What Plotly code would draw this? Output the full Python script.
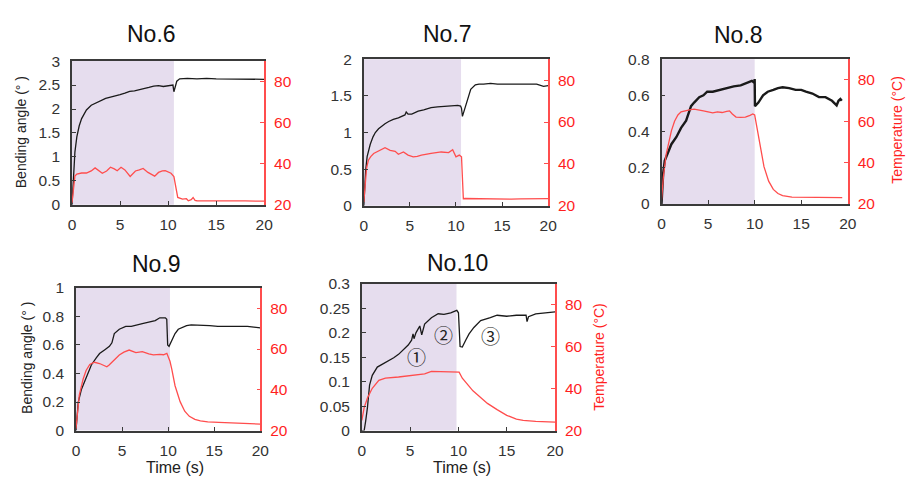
import plotly.graph_objects as go

# ---------------- data ----------------
titles = ["No.6", "No.7", "No.8", "No.9", "No.10"]
heat_end = [10.6, 10.55, 10.0, 10.2, 9.8]

t6_ang = [0,0.1,0.2,0.3,0.5,0.75,1,1.5,2,2.5,3,3.5,4,4.5,5,5.5,6,6.5,7,7.5,8,8.5,9,9.5,10,10.3,10.5,10.6,10.7,10.9,11.2,11.6,12,13,14,15,16,17,18,19,20]
ang6 = [0,0.3,0.75,1.1,1.42,1.65,1.8,1.98,2.08,2.13,2.18,2.22,2.25,2.27,2.3,2.33,2.37,2.38,2.4,2.43,2.45,2.48,2.49,2.47,2.48,2.5,2.5,2.36,2.45,2.58,2.63,2.64,2.64,2.63,2.64,2.63,2.63,2.62,2.63,2.62,2.62]
t6_tmp = [0,0.1,0.2,0.3,0.5,1,1.5,2,2.4,2.8,3.15,3.6,4,4.4,4.7,5.1,5.5,6.05,6.6,7,7.4,7.9,8.3,8.6,9,9.4,9.7,10,10.3,10.6,10.75,10.85,11,11.5,11.9,12.1,12.4,12.6,12.8,13,14,15,16,17,18,19,20]
tmp6 = [21,26,31,34,35,35.5,35.5,36.5,38,36.5,35.4,36.5,38.3,37.5,36.6,38.3,37,33.8,36.5,37,37.7,35.8,34.8,34,35.8,36.5,36.6,36,35.4,33.8,30,26,23.6,22.8,23,22,22.5,23.6,22.2,22,21.9,21.9,21.9,21.9,21.9,21.9,21.8]

t7_ang = [0,0.1,0.2,0.36,0.5,0.7,1,1.25,1.6,1.96,2.3,2.7,3.2,3.75,4.1,4.46,4.6,4.8,5.2,5.5,5.9,6.5,7.3,8,8.75,9.5,10.2,10.5,10.6,10.7,10.9,11.1,11.25,11.6,12.1,12.5,13,13.75,14.5,15.5,16.25,17,18,18.75,19.5,20]
ang7 = [0,0.3,0.48,0.67,0.75,0.84,0.94,1.0,1.05,1.09,1.12,1.15,1.18,1.2,1.22,1.24,1.28,1.25,1.25,1.27,1.29,1.31,1.34,1.35,1.36,1.36,1.37,1.36,1.33,1.22,1.3,1.38,1.44,1.59,1.65,1.66,1.66,1.67,1.66,1.66,1.65,1.65,1.65,1.66,1.63,1.64]
t7_tmp = [0,0.1,0.18,0.3,0.5,0.75,1.07,1.4,1.8,2.3,2.86,3.4,3.75,4.3,4.8,5.36,5.8,6.25,7.3,8.4,9.2,9.64,10,10.36,10.6,10.7,10.8,11,12,13,14.5,16,17,18,19,20]
tmp7 = [21.8,28,34,38,41.8,43.5,45,45.8,46.5,47.7,46.5,46,44.6,45.7,44.2,43.4,43.6,44.2,45,45.7,45.4,46.8,43.4,44.2,43.4,33,23.4,23.5,23.4,23.3,23.1,23.2,23.3,23.4,23.4,23.4]

t8_ang = [0,0.18,0.35,0.7,1.06,1.6,2.1,2.64,3.17,3.5,3.8,4.05,4.5,4.9,5.5,6.3,7,7.75,8.5,9.15,9.7,9.96,10.0,10.03,10.4,10.9,11.4,12,12.5,13,13.7,14.4,15,15.5,16.2,16.9,17.6,18.3,18.8,19.0,19.2,19.35]
ang8 = [0,0.17,0.24,0.29,0.33,0.37,0.42,0.46,0.54,0.56,0.58,0.59,0.6,0.62,0.62,0.63,0.64,0.65,0.655,0.67,0.68,0.67,0.69,0.54,0.56,0.6,0.62,0.63,0.64,0.645,0.64,0.63,0.63,0.62,0.61,0.59,0.59,0.57,0.545,0.57,0.58,0.57]
t8_tmp = [0,0.2,0.5,0.8,1.06,1.4,1.76,2.1,2.5,3,3.5,4,4.5,5,5.5,6,6.5,7,7.3,7.6,8,8.5,9,9.5,9.8,10,10.3,10.6,11,11.5,12,12.5,13,14,15,16,17,18,19,19.4]
tmp8 = [22,33,44,51,55.3,60,63,64.5,65,65.5,65.8,65.5,65,64.5,64,64.5,64.2,64.8,65,63.5,62,61.8,62,62.8,63.5,63,55,47,38,31,27,25,24,23.3,23.2,23.1,23,23,23,23]

t9_ang = [0,0.07,0.25,0.6,1.14,1.67,2.2,2.56,3.1,3.63,3.9,4.16,4.7,5.4,6,6.5,7.2,7.9,8.6,9.1,9.7,9.85,9.95,10.1,10.4,10.75,11.1,11.46,12,12.5,13.6,14.5,15.4,16.3,17.2,18,18.6,19.3,20]
ang9 = [0,0.07,0.2,0.29,0.38,0.46,0.51,0.54,0.565,0.59,0.615,0.68,0.71,0.73,0.73,0.74,0.75,0.76,0.77,0.79,0.79,0.78,0.6,0.59,0.63,0.68,0.71,0.72,0.735,0.74,0.74,0.735,0.73,0.73,0.735,0.73,0.73,0.725,0.72]
t9_tmp = [0,0.07,0.2,0.36,0.78,1.1,1.5,2,2.56,3.1,3.35,3.6,4,4.7,5.2,5.77,6.5,7.2,7.9,8.4,9.1,9.5,9.86,10.03,10.2,10.4,10.75,11.3,11.8,12.3,12.9,13.5,14.3,15.5,17.2,18.5,20]
tmp9 = [21,24.7,31,37.4,45.3,49.5,52.4,53.5,52.9,51.9,51.3,52.2,54,57.1,58.5,59.5,58.2,58.7,57.6,57.1,57.4,57.2,57.9,56.3,54,50,42,34.2,29.5,27,25.5,24.8,24.3,24,23.6,23.4,23.2]

t10_ang = [0,0.24,0.4,0.58,0.8,1.08,1.6,2.44,3.3,3.8,4.3,4.8,5.15,5.3,5.4,5.6,5.83,6.0,6.2,6.5,7.2,7.9,8.5,9.2,9.83,10.0,10.17,10.4,10.75,11.1,11.6,12.3,13.3,14,15,16,17,17.1,17.25,18,19,20]
ang10 = [0,0,0.02,0.047,0.093,0.113,0.13,0.139,0.149,0.156,0.165,0.175,0.185,0.198,0.188,0.2,0.208,0.214,0.196,0.218,0.231,0.239,0.238,0.241,0.246,0.241,0.172,0.171,0.185,0.198,0.211,0.225,0.231,0.236,0.234,0.236,0.236,0.223,0.233,0.239,0.241,0.243]
t10_tmp = [0,0.24,0.58,1.08,1.76,2.44,3.8,5.15,6.5,7.2,8.2,9.2,9.5,10.07,10.4,11,11.5,12,13,14,15,16,16.7,18,20]
tmp10 = [24.9,31,35.6,40.2,44,45.1,45.6,46.3,47.1,48.3,48.2,47.9,48,47.9,45,41.5,39,37,33,30,27.3,25.5,24.9,24.4,24.1]

angle_max = [3, 2, 0.8, 1, 0.3]
angle_dtick = [0.5, 0.5, 0.2, 0.2, 0.05]
temp_ticks = [20, 40, 60, 80]
time_ticks = [0, 5, 10, 15, 20]

labels = ["①", "②", "③"]
label_t = [5.7, 8.5, 13.3]
label_v = [0.152, 0.196, 0.194]

panels = [
    (t6_ang, ang6, t6_tmp, tmp6),
    (t7_ang, ang7, t7_tmp, tmp7),
    (t8_ang, ang8, t8_tmp, tmp8),
    (t9_ang, ang9, t9_tmp, tmp9),
    (t10_ang, ang10, t10_tmp, tmp10),
]

# ---------------- layout (pixel boxes of each panel) ----------------
W, H = 914, 483
boxes = [(69, 264, 54, 203), (365, 552, 52, 204), (667, 856, 52, 202),
         (73, 260, 289, 437), (363, 559, 285, 437)]
title_pos = [(150, 26), (450, 26), (745, 27), (155, 264), (460, 263)]

FONT = "Liberation Sans, Arial, sans-serif"
BLACK = "#1a1a1a"
RED_LINE = "#ff4d4d"
RED_TXT = "#ff1f1f"
AX = "#3a3a3a"
TICK_SIZE = 15.5


def fx(px):
    return px / W


def fy(py):
    return 1 - py / H


fig = go.Figure()
layout = dict(width=W, height=H, margin=dict(l=0, r=0, t=0, b=0),
              paper_bgcolor="white", plot_bgcolor="white", showlegend=False,
              font=dict(family=FONT, size=14, color="#333"))
shapes = []
annotations = []


def paper_text(text, px, py, size, color, angle=0, family=FONT):
    return dict(text=text, x=fx(px), y=fy(py), xref="paper", yref="paper",
                xanchor="center", yanchor="middle", textangle=angle, showarrow=False,
                font=dict(size=size, color=color, family=family))


for i, (ta, va, tt, vt) in enumerate(panels):
    n = i + 1
    xa = "x" if n == 1 else f"x{n}"
    yl_id = 2 * n - 1
    yr_id = 2 * n
    yl = "y" if yl_id == 1 else f"y{yl_id}"
    yr = f"y{yr_id}"
    x0, x1, y0, y1 = boxes[i]
    xd = [fx(x0), fx(x1)]
    yd = [fy(y1), fy(y0)]

    layout["xaxis" if n == 1 else f"xaxis{n}"] = dict(
        domain=xd, anchor=yl, range=[0, 20], tickvals=time_ticks,
        showgrid=False, zeroline=False, showline=True, mirror=True,
        linecolor=AX, linewidth=1.5, ticks="inside", ticklen=4, tickcolor=AX,
        tickfont=dict(size=TICK_SIZE, color="#333"), ticklabelstandoff=5)
    layout["yaxis" if yl_id == 1 else f"yaxis{yl_id}"] = dict(
        domain=yd, anchor=xa, range=[0, angle_max[i]], dtick=angle_dtick[i],
        showgrid=False, zeroline=False, showline=True, linecolor=AX, linewidth=1.5,
        ticks="inside", ticklen=4, tickcolor=AX, tickfont=dict(size=TICK_SIZE, color="#333"),
        ticklabelstandoff=7)
    layout[f"yaxis{yr_id}"] = dict(
        domain=yd, anchor=xa, overlaying=yl, side="right", range=[20, 90],
        tickvals=temp_ticks, showgrid=False, zeroline=False, showline=True,
        linecolor=RED_LINE, linewidth=1.5, ticks="inside", ticklen=4,
        tickcolor=RED_LINE, tickfont=dict(size=TICK_SIZE, color=RED_TXT), ticklabelstandoff=5)

    shapes.append(dict(type="rect", xref=xa, yref=f"{yl} domain", x0=0, x1=heat_end[i],
                       y0=0, y1=1, fillcolor="#e6ddee", line=dict(width=0), layer="below"))

    fig.add_trace(go.Scatter(x=tt, y=vt, xaxis=xa, yaxis=yr, mode="lines",
                             line=dict(color=RED_LINE, width=1.3)))
    fig.add_trace(go.Scatter(x=ta, y=va, xaxis=xa, yaxis=yl, mode="lines",
                             line=dict(color=BLACK, width=2.4 if n == 3 else 1.3)))

    tx, ty = title_pos[i]
    annotations.append(paper_text(titles[i], tx, ty, 23, "#111"))

# axis titles
annotations.append(paper_text("Bending angle (° )", 18, 128, 14, "#222", -90))
annotations.append(paper_text("Bending angle (° )", 24, 362, 14, "#222", -90))
annotations.append(paper_text("Temperature (°C)", 905, 125, 14, RED_TXT, -90))
annotations.append(paper_text("Temperature (°C)", 604, 360, 14, RED_TXT, -90))
annotations.append(paper_text("Time (s)", 173, 475, 16, "#222"))
annotations.append(paper_text("Time (s)", 465, 475, 16, "#222"))

for lab, lt, lv in zip(labels, label_t, label_v):
    annotations.append(dict(text=lab, x=lt, y=lv, xref="x5", yref="y9", showarrow=False,
                            xanchor="center", yanchor="middle",
                            font=dict(size=19, color="#222", family="Noto Sans CJK JP, DejaVu Sans")))

layout["shapes"] = shapes
layout["annotations"] = annotations
fig.update_layout(**layout)
fig.write_html("out.html")
